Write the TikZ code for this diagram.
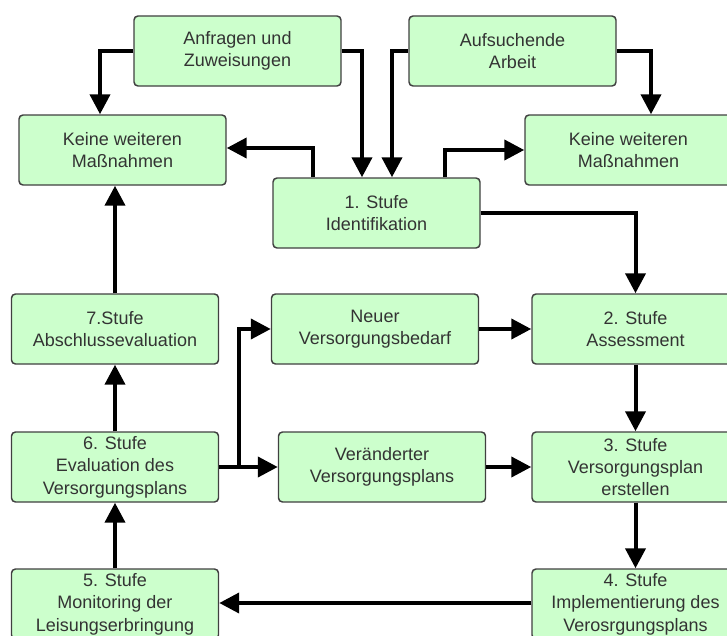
\documentclass[tikz,border=0pt]{standalone}
\usepackage{fontspec}
\setmainfont{Liberation Sans}
\usetikzlibrary{arrows.meta,calc}
\definecolor{boxfill}{HTML}{CCFFCC}
\definecolor{boxline}{HTML}{404040}
\definecolor{txt}{HTML}{333333}
\begin{document}
\begin{tikzpicture}[x=0.75pt,y=-0.75pt,
  box/.style={draw=boxline, fill=boxfill, line width=1.1pt, rounded corners=3pt,
    minimum width=155.25pt, minimum height=52.5pt, inner sep=0pt, align=center,
    text=txt, font=\fontsize{13.5}{16.8}\selectfont},
  arr/.style={line width=3pt, draw=black, -{Triangle[length=15pt,width=15pt]}}]
\useasboundingbox (0,0) rectangle (727,635);
\clip (0,0) rectangle (727,635);
\node[box] (anf) at (237.5,51) {Anfragen und\\Zuweisungen};
\node[box] (auf) at (512.5,51) {Aufsuchende\\Arbeit};
\node[box] (kl) at (122.5,150) {Keine weiteren\\Maßnahmen};
\node[box] (kr) at (628.5,150) {Keine weiteren\\Maßnahmen};
\node[box] (s1) at (376.5,213) {1. Stufe\\Identifikation};
\node[box] (s7) at (115,329) {7.Stufe\\Abschlussevaluation};
\node[box] (neu) at (375,329) {Neuer\\Versorgungsbedarf};
\node[box] (s2) at (635.5,329) {2. Stufe\\Assessment};
\node[box] (s6) at (115,467) {6. Stufe\\Evaluation des\\Versorgungsplans};
\node[box] (ver) at (382,467) {Veränderter\\Versorgungsplans};
\node[box] (s3) at (635.5,467) {3. Stufe\\Versorgungsplan\\erstellen};
\node[box] (s5) at (115,604) {5. Stufe\\Monitoring der\\Leisungserbringung};
\node[box] (s4) at (635.5,604) {4. Stufe\\Implementierung des\\Verosrgungsplans};

\draw[arr] (anf.west) -| ($(kl.north)+(-22.5,0)$);
\draw[arr] (anf.east) -| ($(s1.north)+(-14.5,0)$);
\draw[arr] (auf.west) -| ($(s1.north)+(15.5,0)$);
\draw[arr] (auf.east) -| ($(kr.north)+(22.5,0)$);
\draw[arr] ($(s1.north)+(-63.5,0)$) |- ($(kl.east)+(0,-2)$);
\draw[arr] ($(s1.north)+(68.5,0)$) |- (kr.west);
\draw[arr] (s1.east) -| (s2.north);
\draw[arr] (s7.north) -- (s7.north |- kl.south);
\draw[arr] (s6.north) -- (s7.south);
\draw[arr] (s5.north) -- (s6.south);
\draw[arr] (s6.east) -- (ver.west);
\draw[arr] ($(s6.east)+(20,0)$) |- (neu.west);
\draw[arr] (neu.east) -- (s2.west);
\draw[arr] (ver.east) -- (s3.west);
\draw[arr] (s2.south) -- (s3.north);
\draw[arr] (s3.south) -- (s4.north);
\draw[arr] ($(s4.west)+(0,-1)$) -- ($(s5.east)+(0,-1)$);
\end{tikzpicture}
\end{document}
